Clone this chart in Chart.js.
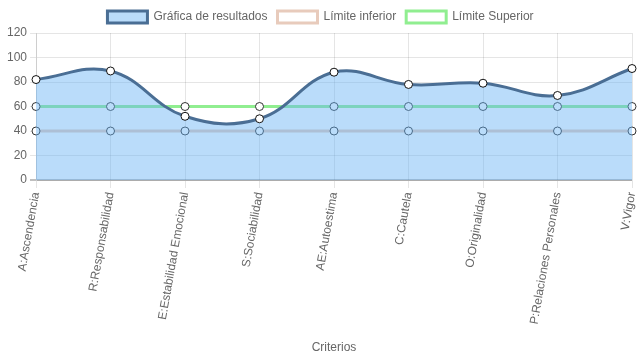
<!DOCTYPE html>
<html lang="es">
<head>
  <meta charset="UTF-8" />
  <title>Criterios</title>
  <script src="https://cdn.jsdelivr.net/npm/chart.js"></script>
  <style>
    html, body { margin: 0; padding: 0; background: #fff; }
    #wrap { width: 637px; height: 359px; }
  </style>
</head>
<body>
<div id="wrap"><canvas id="criterios"></canvas></div>
<script>
const criterios = ["A:Ascendencia", "R:Responsabilidad", "E:Estabilidad Emocional", "S:Sociabilidad",
  "AE:Autoestima", "C:Cautela", "O:Originalidad", "P:Relaciones Personales", "V:Vigor"];
const resultados = [82, 89, 52, 50, 88, 78, 79, 69, 91];
const limiteInferior = [40, 40, 40, 40, 40, 40, 40, 40, 40];
const limiteSuperior = [60, 60, 60, 60, 60, 60, 60, 60, 60];

Chart.defaults.font.family = "'Liberation Sans', Arial, sans-serif";
Chart.defaults.font.size = 12;
Chart.defaults.color = '#666';

new Chart(document.getElementById("criterios"), {
  type: 'line',
  data: {
    labels: criterios,
    datasets: [{
      label: "Gráfica de resultados",
      data: resultados,
      borderColor: '#4a6e94',
      backgroundColor: 'rgba(102,178,245,0.45)',
      borderWidth: 3,
      fill: 'origin',
      tension: 0.4,
      pointRadius: 4,
      pointBackgroundColor: '#fff',
      pointBorderColor: '#111',
      pointBorderWidth: 1
    }, {
      label: "Límite inferior",
      data: limiteInferior,
      borderColor: '#e8cbbc',
      backgroundColor: '#fff',
      borderWidth: 3,
      fill: false,
      pointRadius: 4,
      pointBackgroundColor: '#fff',
      pointBorderColor: '#333',
      pointBorderWidth: 1
    }, {
      label: "Límite Superior",
      data: limiteSuperior,
      borderColor: '#90ee90',
      backgroundColor: '#fff',
      borderWidth: 3,
      fill: false,
      pointRadius: 4,
      pointBackgroundColor: '#fff',
      pointBorderColor: '#333',
      pointBorderWidth: 1
    }]
  },
  options: {
    responsive: true,
    maintainAspectRatio: false,
    animation: false,
    layout: { padding: { left: 4, right: 0, top: 1 } },
    plugins: {
      legend: {
        labels: { boxWidth: 40, boxHeight: 12, padding: 10 }
      },
      tooltip: { enabled: false }
    },
    scales: {
      x: {
        // keep the last point near the right edge like the original
        afterFit: scale => { scale.paddingRight = 4; },
        ticks: { minRotation: 80, maxRotation: 80, autoSkip: false },
        grid: { color: 'rgba(0,0,0,0.1)', tickLength: 8 },
        title: { display: true, text: 'Criterios', padding: { top: 16 } }
      },
      y: {
        min: 0,
        suggestedMax: 120,
        ticks: { stepSize: 20 },
        grid: {
          color: ctx => ctx.tick && ctx.tick.value === 0 ? 'rgba(0,0,0,0.25)' : 'rgba(0,0,0,0.1)',
          lineWidth: ctx => ctx.tick && ctx.tick.value === 0 ? 2 : 1,
          tickLength: 6
        }
      }
    }
  }
});
</script>
</body>
</html>
